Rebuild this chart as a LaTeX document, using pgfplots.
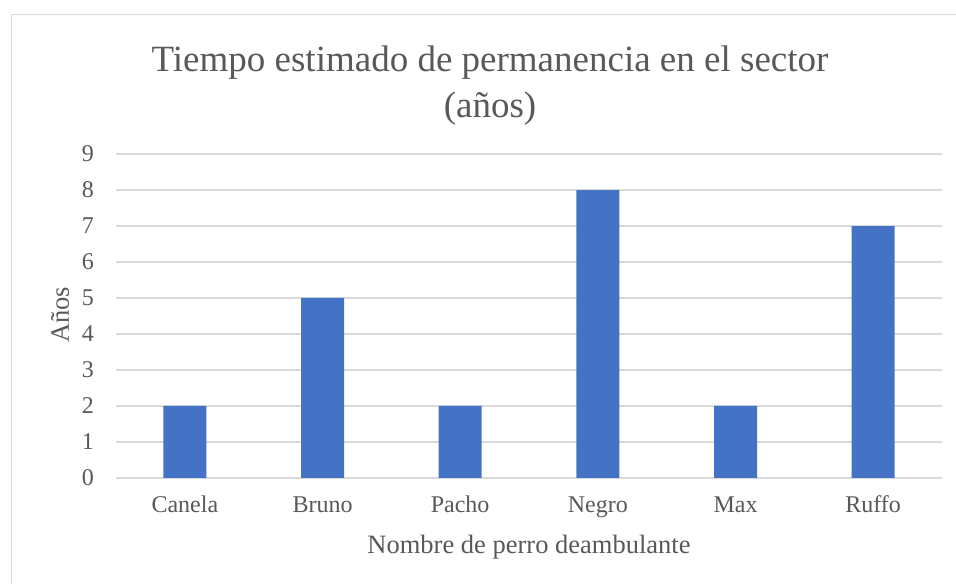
\documentclass[border=0pt]{standalone}
\usepackage{pgfplots}
\pgfplotsset{compat=1.18}
\usepackage{fontspec}
\setmainfont{Liberation Serif}
\definecolor{txt}{HTML}{595959}
\definecolor{grd}{HTML}{D9D9D9}
\definecolor{bar}{HTML}{4472C4}
\begin{document}
\begin{tikzpicture}
\path[use as bounding box, fill=white] (0,0) rectangle (956bp,584bp);
\draw[grd, line width=1.2bp] (11.5bp,0) -- (11.5bp,569.5bp) -- (956bp,569.5bp);
\begin{axis}[
  at={(116bp,106bp)}, anchor=south west,
  scale only axis, width=826bp, height=324bp,
  xmin=-0.5, xmax=5.5, ymin=0, ymax=9,
  enlargelimits=false,
  axis line style={draw=none},
  major tick length=0pt,
  ytick={0,1,2,3,4,5,6,7,8,9},
  xtick={0,1,2,3,4,5},
  xticklabels={Canela,Bruno,Pacho,Negro,Max,Ruffo},
  ymajorgrids, grid style={grd, line width=1.2bp},
  /pgf/number format/assume math mode=true,
  ticklabel style={font=\fontsize{24bp}{28bp}\selectfont, text=txt, inner sep=0pt},
  yticklabel style={anchor=east, xshift=-22bp},
  xticklabel style={anchor=base, yshift=-35bp},
  ybar, bar width=43bp,
]
\addplot[fill=bar, draw=none] coordinates {(0,2) (1,5) (2,2) (3,8) (4,2) (5,7)};
\end{axis}
\node[anchor=base, text=txt, font=\fontsize{37bp}{44bp}\selectfont, inner sep=0pt] at (490bp,512bp) {Tiempo estimado de permanencia en el sector};
\node[anchor=base, text=txt, font=\fontsize{37bp}{44bp}\selectfont, inner sep=0pt] at (490bp,466bp) {(años)};
\node[anchor=base, text=txt, font=\fontsize{26.5bp}{30bp}\selectfont, inner sep=0pt] at (529bp,31bp) {Nombre de perro deambulante};
\node[rotate=90, text=txt, font=\fontsize{26.5bp}{30bp}\selectfont, inner sep=0pt] at (60bp,269bp) {Años};
\end{tikzpicture}
\end{document}
